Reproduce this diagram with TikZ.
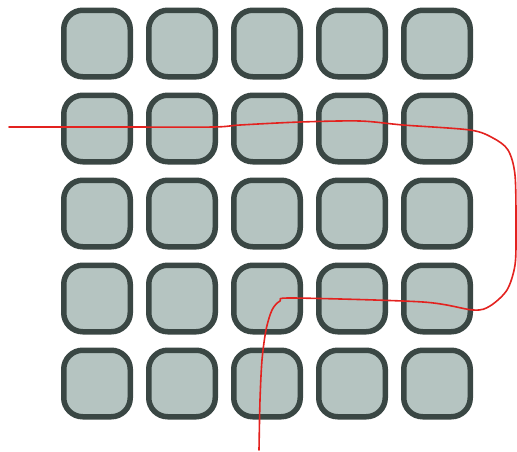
\documentclass[tikz,border=0pt]{standalone}
\begin{document}
\begin{tikzpicture}[x=1pt,y=-1pt,
  tile/.style={draw=tileborder,fill=tilefill,line width=5.5pt,rounded corners=19pt,minimum size=66.5pt,inner sep=0pt},
  trace/.style={draw=tracered,line width=1.6pt,line cap=round,line join=round}]
\definecolor{tileborder}{HTML}{3A4744}
\definecolor{tilefill}{HTML}{B5C4C1}
\definecolor{tracered}{HTML}{E3221F}
\useasboundingbox (0,0) rectangle (517,451);
\foreach \r in {1,...,5}{
  \foreach \c in {1,...,5}{
    \node[tile] (t\r\c) at ({97+85*(\c-1)},{43.5+85*(\r-1)}) {};
  }
}
\draw[trace] plot[smooth,tension=0.5] coordinates {
 (9,127) (120,127) (213,127) (240,125) (300,122) (360,121) (403,125)
 (470,130) (493,138) (508,150) (515,175) (516,230) (515,265) (507,290)
 (490,306) (473,310) (423,302) (293,298) (280,301) (272,310) (266,330)
 (262,360) (260,400) (259,450)};
\end{tikzpicture}
\end{document}
